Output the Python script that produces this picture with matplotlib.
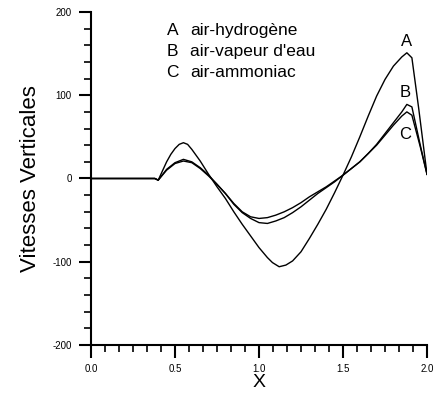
import matplotlib
matplotlib.use("Agg")
import matplotlib.pyplot as plt
from matplotlib.ticker import AutoMinorLocator, FormatStrFormatter

plt.rcParams["font.family"] = ["Liberation Sans", "DejaVu Sans"]
plt.rcParams["axes.unicode_minus"] = False

# abscissa samples
x_a = [0.0, 0.38, 0.40, 0.425, 0.45, 0.475, 0.50, 0.525, 0.55, 0.575, 0.60,
       0.65, 0.70, 0.75, 0.80, 0.85, 0.90, 0.95, 1.00, 1.05, 1.08, 1.12, 1.16,
       1.20, 1.25, 1.30, 1.35, 1.40, 1.45, 1.50, 1.55, 1.60, 1.65, 1.70, 1.75,
       1.80, 1.85, 1.88, 1.91, 1.95, 2.0]
# A : air-hydrogene
vit_a = [0, 0, -2, 9, 20, 29, 36, 41, 43, 41, 35,
         21, 5, -10, -24, -40, -55, -69, -83, -95, -101, -106, -104,
         -99, -88, -72, -55, -37, -17, 4, 26, 50, 75, 99, 119,
         135, 146, 151, 145, 85, 5]

x_bc = [0.0, 0.38, 0.40, 0.45, 0.50, 0.55, 0.60, 0.65, 0.70, 0.75, 0.80, 0.85,
        0.90, 0.95, 1.00, 1.05, 1.10, 1.15, 1.20, 1.25, 1.30, 1.35, 1.40, 1.45,
        1.50, 1.55, 1.60, 1.65, 1.70, 1.75, 1.80, 1.85, 1.88, 1.91, 1.96, 2.0]
# B : air-vapeur d'eau
vit_b = [0, 0, -2, 11, 19, 23, 20, 13, 4, -7, -18, -31,
         -41, -48, -53, -54, -51, -47, -41, -34, -26, -18, -11, -4,
         4, 12, 20, 30, 41, 54, 67, 80, 89, 86, 40, 5]
# C : air-ammoniac
vit_c = [0, 0, -2, 10, 18, 21, 19, 12, 3, -7, -18, -30,
         -40, -46, -48, -47, -44, -40, -35, -29, -22, -16, -10, -3,
         4, 12, 20, 30, 40, 52, 64, 75, 80, 76, 38, 5]

curve_tags = ["A", "B", "C"]
curve_names = ["air-hydrogène", "air-vapeur d'eau", "air-ammoniac"]

fig = plt.figure(figsize=(4.34, 3.96), dpi=100)
ax = fig.add_axes([0.2097, 0.1288, 0.7742, 0.8409])

ax.plot(x_a, vit_a, color="black", lw=1.0)
ax.plot(x_bc, vit_b, color="black", lw=1.0)
ax.plot(x_bc, vit_c, color="black", lw=1.0)

ax.set_xlim(0, 2.0)
ax.set_ylim(-200, 200)
ax.set_xticks([0.0, 0.5, 1.0, 1.5, 2.0])
ax.set_yticks([-200, -100, 0, 100, 200])
ax.xaxis.set_major_formatter(FormatStrFormatter("%.1f"))
ax.xaxis.set_minor_locator(AutoMinorLocator(6))
ax.yaxis.set_minor_locator(AutoMinorLocator(5))

for side in ["top", "right"]:
    ax.spines[side].set_visible(False)
for side in ["left", "bottom"]:
    ax.spines[side].set_linewidth(1.5)

ax.tick_params(which="major", length=9, width=1.5, labelsize=7, pad=5)
ax.tick_params(which="minor", length=5, width=1.2)

ax.set_xlabel("X", fontsize=14, labelpad=0)
ax.set_ylabel("Vitesses Verticales", fontsize=16, labelpad=8)

# legend block
for tag, name, yy in zip(curve_tags, curve_names, [178, 153, 127]):
    ax.text(0.45, yy, tag, fontsize=12.5, va="center", ha="left")
    ax.text(0.59, yy, name, fontsize=12.5, va="center", ha="left")

# curve tags near the right peaks
ax.text(1.88, 165, "A", fontsize=12, ha="center", va="center")
ax.text(1.87, 103, "B", fontsize=12, ha="center", va="center")
ax.text(1.87, 53, "C", fontsize=12, ha="center", va="center")

fig.savefig("out.png", dpi=100)
